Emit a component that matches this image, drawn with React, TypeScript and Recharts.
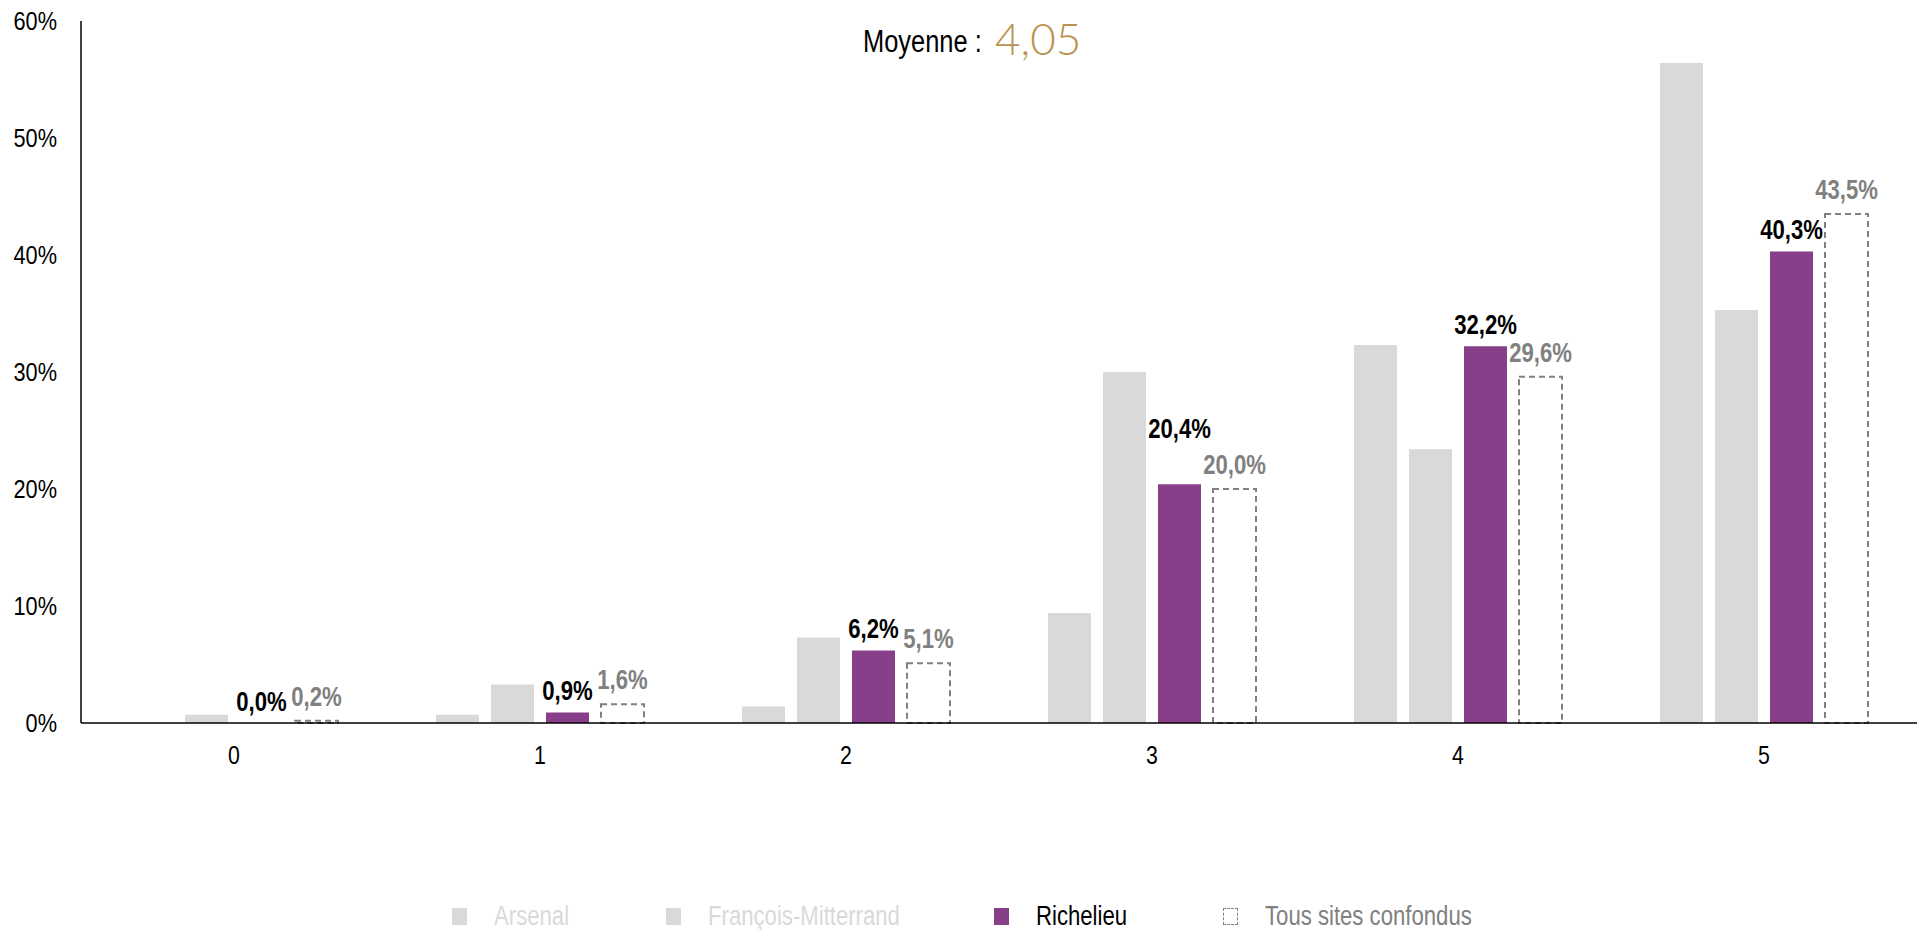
import React from 'react';
import { BarChart, Bar, XAxis, YAxis, LabelList } from 'recharts';

// satisfaction scores 0..5
const categories = ['0', '1', '2', '3', '4', '5'];
const arsenal = [0, 0.7, 1.4, 9.4, 32.3, 56.4];
const francoisMitterrand = [0.7, 3.3, 7.3, 30.0, 23.4, 35.3];
const richelieu = [0.0, 0.9, 6.2, 20.4, 32.2, 40.3];
const tousSites = [0.2, 1.6, 5.1, 20.0, 29.6, 43.5];
const yTicks = [0, 10, 20, 30, 40, 50, 60];
const moyenne = '4,05';

const data = categories.map((cat, i) => ({
  cat,
  arsenal: arsenal[i],
  fm: francoisMitterrand[i],
  richelieu: richelieu[i],
  tous: tousSites[i],
}));

// no Arial Narrow here: Liberation Sans squeezed horizontally
const FONT = "'Liberation Sans', Arial, sans-serif";
const NARROW = 0.82;
const PURPLE = '#873F8A';
const LIGHT = '#D9D9D9';
const GREY = '#808080';
const BAR_SIZE = 43;
const BAR_GAP = 12;

const fmt = (v: number) => `${v.toFixed(1).replace('.', ',')}%`;

const legendItems = [
  { name: 'Arsenal', color: LIGHT, text: LIGHT, dashed: false, left: 452 },
  { name: 'François-Mitterrand', color: LIGHT, text: LIGHT, dashed: false, left: 666 },
  { name: 'Richelieu', color: PURPLE, text: '#000', dashed: false, left: 994 },
  { name: 'Tous sites confondus', color: 'none', text: GREY, dashed: true, left: 1223 },
];

const NarrowText = ({ x, y, children, anchor = 'middle', dy = '0', size = 27, bold = false, fill = '#000' }: any) => (
  <g transform={`translate(${x},${y}) scale(${NARROW},1)`}>
    <text x={0} y={0} dy={dy} textAnchor={anchor} fontFamily={FONT} fontSize={size} fontWeight={bold ? 700 : 400} fill={fill}>
      {children}
    </text>
  </g>
);

const XTick = (props: any) => (
  <NarrowText x={props.x} y={props.y} dy="0.71em" size={26}>
    {props.payload.value}
  </NarrowText>
);

const YTick = (props: any) => (
  <NarrowText x={props.x} y={props.y} dy="0.355em" anchor="end" size={26.5}>
    {`${props.payload.value}%`}
  </NarrowText>
);

// Richelieu label, lifted when it would sit on top of the "tous sites" label
const RichelieuLabel = (props: any) => {
  const { x, y, width, value } = props;
  const i = richelieu.indexOf(value);
  const clash = i >= 0 && Math.abs(richelieu[i] - tousSites[i]) < 1 && value >= 10;
  return (
    <NarrowText x={x + width / 2} y={y - 12 - (clash ? 34 : 0)} bold>
      {fmt(value)}
    </NarrowText>
  );
};

const TousLabel = (props: any) => {
  const { x, y, width, height, value } = props;
  const i = tousSites.indexOf(value);
  const base = y + height;
  return (
    <g>
      <NarrowText x={x + width / 2} y={y - 15} bold fill={GREY}>
        {fmt(value)}
      </NarrowText>
      {/* recharts drops the label of a zero-height bar, so the 0,0% of Richelieu is drawn here */}
      {i >= 0 && richelieu[i] === 0 && (
        <NarrowText x={x - BAR_SIZE - BAR_GAP + width / 2} y={base - 12} bold>
          {fmt(0)}
        </NarrowText>
      )}
    </g>
  );
};

export default function App() {
  return (
    <div style={{ position: 'absolute', left: 0, top: 0, width: 1922, height: 930, background: '#fff' }}>
      <div
        style={{
          position: 'absolute',
          left: 863,
          top: 25,
          fontFamily: FONT,
          fontSize: 31,
          lineHeight: '34px',
          color: '#000',
          whiteSpace: 'nowrap',
          transform: `scaleX(${NARROW})`,
          transformOrigin: 'left top',
        }}
      >
        Moyenne :
      </div>
      <div
        style={{
          position: 'absolute',
          left: 995,
          top: 13,
          fontFamily: 'Lato, Roboto, sans-serif',
          fontWeight: 300,
          fontSize: 44,
          lineHeight: '50px',
          color: '#B8924F',
          whiteSpace: 'nowrap',
        }}
      >
        {moyenne}
      </div>

      <BarChart
        width={1922}
        height={930}
        data={data}
        margin={{ top: 21, right: 5, left: 0, bottom: 147 }}
        barGap={BAR_GAP}
        barSize={BAR_SIZE}
      >
        <XAxis
          dataKey="cat"
          axisLine={{ stroke: '#000', strokeWidth: 1.5 }}
          tickLine={false}
          tickMargin={17}
          tick={<XTick />}
          height={60}
        />
        <YAxis
          width={81}
          domain={[0, 60]}
          ticks={yTicks}
          axisLine={{ stroke: '#000', strokeWidth: 1.5 }}
          tickLine={false}
          tickMargin={18}
          tick={<YTick />}
        />
        <Bar dataKey="arsenal" name="Arsenal" fill={LIGHT} isAnimationActive={false} />
        <Bar dataKey="fm" name="François-Mitterrand" fill={LIGHT} isAnimationActive={false} />
        <Bar dataKey="richelieu" name="Richelieu" fill={PURPLE} isAnimationActive={false}>
          <LabelList dataKey="richelieu" content={RichelieuLabel} />
        </Bar>
        <Bar
          dataKey="tous"
          name="Tous sites confondus"
          fill="#fff"
          stroke={GREY}
          strokeWidth={2}
          strokeDasharray="6 4"
          isAnimationActive={false}
        >
          <LabelList dataKey="tous" content={TousLabel} />
        </Bar>
      </BarChart>

      {legendItems.map((it) => (
        <div
          key={it.name}
          style={{ position: 'absolute', left: it.left, top: 901, height: 30, display: 'flex', alignItems: 'center' }}
        >
          <span
            style={{
              display: 'inline-block',
              width: it.dashed ? 13 : 15,
              height: it.dashed ? 15 : 17,
              background: it.color,
              border: it.dashed ? `1px dashed ${GREY}` : 'none',
            }}
          />
          <span
            style={{
              marginLeft: 27,
              fontFamily: FONT,
              fontSize: 27,
              color: it.text,
              whiteSpace: 'nowrap',
              transform: `scaleX(${NARROW})`,
              transformOrigin: 'left center',
            }}
          >
            {it.name}
          </span>
        </div>
      ))}
    </div>
  );
}
